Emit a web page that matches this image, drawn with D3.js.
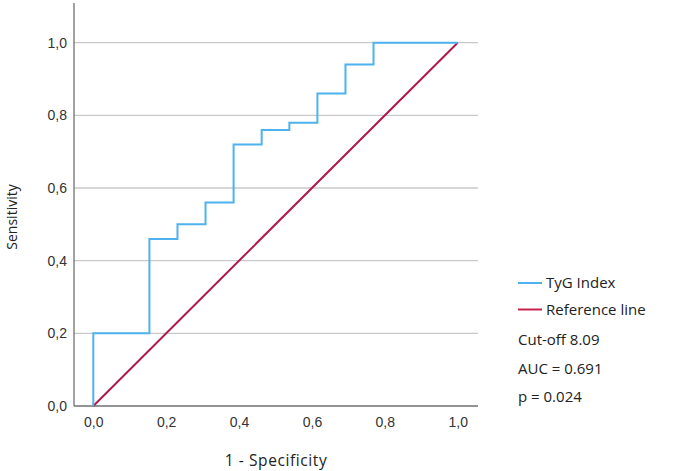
<!DOCTYPE html>
<html>
<head>
<meta charset="utf-8">
<script src="https://cdn.jsdelivr.net/npm/d3@7"></script>
<style>
  body { margin: 0; background: #fff; }
  svg { display: block; }
</style>
</head>
<body>
<div id="chart"></div>
<script>
// ROC curve - TyG Index
const fpr = [0, 0, 0.154, 0.231, 0.308, 0.385, 0.462, 0.538, 0.615, 0.692, 0.769, 1];
const tpr = [0, 0.2, 0.46, 0.5, 0.56, 0.72, 0.76, 0.78, 0.86, 0.94, 1.0, 1.0];
const refLine = [0, 1];
const ticks = [0, 0.2, 0.4, 0.6, 0.8, 1.0];
const tickLabels = ["0,0", "0,2", "0,4", "0,6", "0,8", "1,0"];
const legendNames = ["TyG Index", "Reference line"];
const statLines = ["Cut-off 8.09", "AUC = 0.691", "p = 0.024"];

const w = 685, h = 471;
const blue = "#4db2ee", red = "#ad1a4b";

const svg = d3.select("#chart").append("svg")
    .attr("width", w)
    .attr("height", h);

// Scales
const x = d3.scaleLinear().domain([0, 1]).range([93.3, 457.7]);
const y = d3.scaleLinear().domain([0, 1]).range([406, 42.7]);

const plotLeft = 74, plotRight = 478, plotTop = 3;

// Gridlines
svg.append("g")
    .selectAll("line")
    .data(ticks.filter(t => t > 0))
    .enter()
    .append("line")
    .attr("x1", plotLeft)
    .attr("x2", plotRight)
    .attr("y1", d => y(d))
    .attr("y2", d => y(d))
    .attr("stroke", "#c9c9c9")
    .attr("stroke-width", 1.3);

// Y axis
const yAxis = svg.append("g")
    .attr("transform", `translate(${plotLeft},0)`)
    .call(d3.axisLeft(y).tickValues(ticks).tickSize(0).tickPadding(7)
        .tickFormat((d, i) => tickLabels[i]));
yAxis.select(".domain").remove();
svg.append("line")
    .attr("x1", plotLeft).attr("x2", plotLeft)
    .attr("y1", plotTop).attr("y2", y(0))
    .attr("stroke", "#707070").attr("stroke-width", 1.3);

// X axis
const xAxis = svg.append("g")
    .attr("transform", `translate(0,${y(0)})`)
    .call(d3.axisBottom(x).tickValues(ticks).tickSize(0).tickPadding(11)
        .tickFormat((d, i) => tickLabels[i]));
xAxis.select(".domain").remove();
svg.append("line")
    .attr("x1", plotLeft).attr("x2", plotRight)
    .attr("y1", y(0)).attr("y2", y(0))
    .attr("stroke", "#707070").attr("stroke-width", 1.3);

svg.selectAll(".tick text")
    .style("font-family", "'Liberation Sans', Arial, sans-serif")
    .style("font-size", "14px")
    .style("fill", "#333");

// Reference line
const refPts = refLine.map(v => [v, v]);
svg.append("path")
    .datum(refPts)
    .attr("d", d3.line().x(d => x(d[0])).y(d => y(d[1])))
    .attr("fill", "none")
    .attr("stroke", red)
    .attr("stroke-width", 2);

// ROC curve
const rocPts = fpr.map((f, i) => [f, tpr[i]]);
svg.append("path")
    .datum(rocPts)
    .attr("d", d3.line().curve(d3.curveStepAfter).x(d => x(d[0])).y(d => y(d[1])))
    .attr("fill", "none")
    .attr("stroke", blue)
    .attr("stroke-width", 2);

// Axis titles
svg.append("text")
    .attr("x", 276)
    .attr("y", 466)
    .attr("text-anchor", "middle")
    .style("font-family", "'Open Sans', sans-serif")
    .style("font-size", "15.5px")
    .style("letter-spacing", "0.6px")
    .style("fill", "#222")
    .text("1 - Specificity");

svg.append("text")
    .attr("transform", "translate(17,217) rotate(-90)")
    .attr("text-anchor", "middle")
    .style("font-family", "'Open Sans', sans-serif")
    .style("font-size", "14px")
    .style("fill", "#222")
    .text("Sensitivity");

// Legend
const legend = svg.append("g");
legendNames.forEach((name, i) => {
    const ly = 283 + i * 26.5;
    legend.append("line")
        .attr("x1", 518).attr("x2", 542)
        .attr("y1", ly).attr("y2", ly)
        .attr("stroke", i === 0 ? blue : "#c8234a")
        .attr("stroke-width", 2);
    legend.append("text")
        .attr("x", 546)
        .attr("y", ly)
        .attr("dy", "0.35em")
        .style("font-family", "'Open Sans', sans-serif")
        .style("font-size", "15px")
        .style("fill", "#222")
        .text(name);
});
statLines.forEach((s, i) => {
    legend.append("text")
        .attr("x", 518)
        .attr("y", 340 + i * 28.5)
        .attr("dy", "0.35em")
        .style("font-family", "'Open Sans', sans-serif")
        .style("font-size", "15px")
        .style("fill", "#222")
        .text(s);
});
</script>
</body>
</html>
